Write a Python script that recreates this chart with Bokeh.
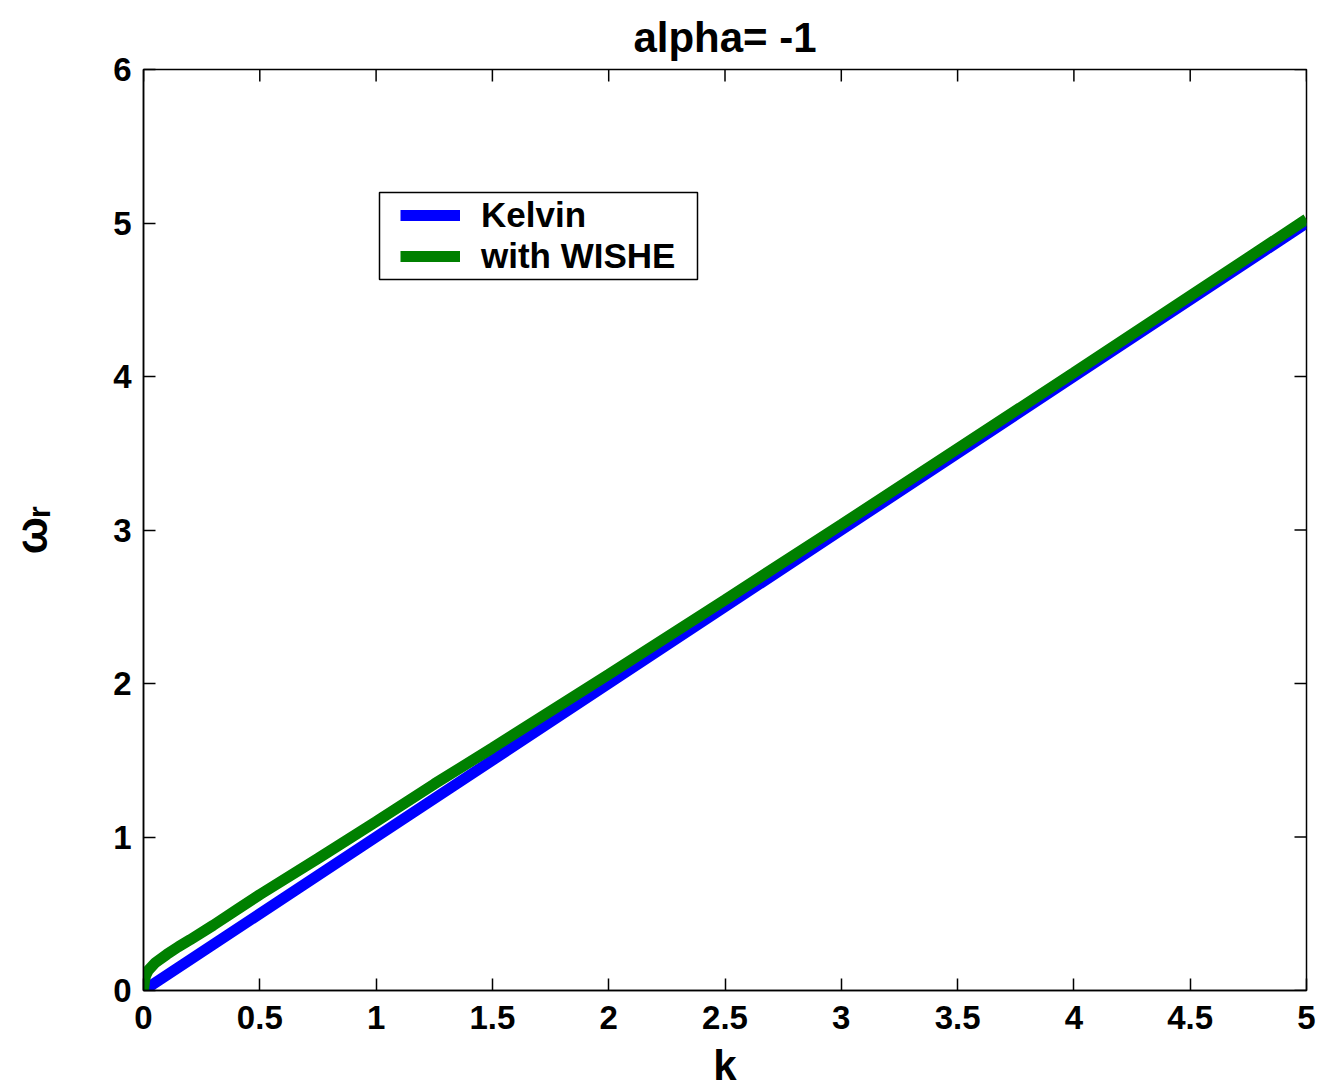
import math

from bokeh.plotting import figure
from bokeh.models import (LinearAxis, FixedTicker, Range1d, Legend, LegendItem,
                          BoxAnnotation)
from bokeh.embed import file_html
from bokeh.resources import INLINE

# Dispersion curves: real frequency vs. wavenumber
k_kelvin = [0.0, 1.0, 2.0, 3.0, 4.0, 5.0]
omega_kelvin = [0.0, 1.0, 2.0, 3.0, 4.0, 5.0]

k_wishe = [0.0, 0.005, 0.01, 0.02, 0.05, 0.1, 0.15, 0.2, 0.3, 0.4, 0.5, 0.75,
           1.0, 1.25, 1.5, 2.0, 2.5, 3.0, 3.5, 4.0, 4.5, 5.0]
omega_wishe = [0.0, 0.07, 0.10, 0.13, 0.18, 0.235, 0.285, 0.33, 0.425, 0.525,
               0.625, 0.86, 1.10, 1.345, 1.58, 2.06, 2.545, 3.035, 3.53,
               4.025, 4.525, 5.025]

x_ticks = [0, 0.5, 1, 1.5, 2, 2.5, 3, 3.5, 4, 4.5, 5]
x_tick_labels = ["0", "0.5", "1", "1.5", "2", "2.5", "3", "3.5", "4", "4.5", "5"]
y_ticks = [0, 1, 2, 3, 4, 5, 6]
y_tick_labels = ["0", "1", "2", "3", "4", "5", "6"]

FONT = "Liberation Sans"
TICK_SIZE = "33px"
TICK_LEN = 12

p = figure(width=1322, height=1091, output_backend="svg", toolbar_location=None,
           x_range=Range1d(x_ticks[0], x_ticks[-1]),
           y_range=Range1d(y_ticks[0], y_ticks[-1]),
           x_axis_location=None, y_axis_location=None,
           min_border_left=143, min_border_right=16,
           min_border_top=69, min_border_bottom=101)
p.background_fill_color = "white"
p.border_fill_color = "white"
p.outline_line_color = "black"
p.outline_line_width = 1.5
p.xgrid.visible = False
p.ygrid.visible = False

p.title.text = "alpha= -1"
p.title.align = "center"
p.title.text_font = FONT
p.title.text_font_size = "42px"
p.title.text_font_style = "bold"
p.title.text_color = "black"
p.title.standoff = 17


def style_axis(ax, ticks, labels):
    ax.ticker = FixedTicker(ticks=ticks)
    ax.minor_tick_line_color = None
    ax.major_tick_in = TICK_LEN
    ax.major_tick_out = 0
    ax.major_tick_line_color = "black"
    ax.major_tick_line_width = 1.5
    ax.axis_line_color = "black"
    ax.axis_line_width = 1.5
    ax.major_label_overrides = {t: s for t, s in zip(ticks, labels)}
    ax.major_label_text_font = FONT
    ax.major_label_text_font_size = TICK_SIZE
    ax.major_label_text_font_style = "bold"
    ax.major_label_text_color = "black"
    ax.axis_label_text_font = FONT
    ax.axis_label_text_font_style = "bold"
    ax.axis_label_text_color = "black"


xb = LinearAxis(axis_label="k")
style_axis(xb, x_ticks, x_tick_labels)
xb.major_label_standoff = 15
xb.axis_label_standoff = 10
xb.axis_label_text_font_size = "42px"
p.add_layout(xb, "below")

yl = LinearAxis(axis_label="ω\u1d63")
style_axis(yl, y_ticks, y_tick_labels)
yl.major_label_standoff = 12
yl.axis_label_standoff = 54
yl.axis_label_text_font_size = "44px"
p.add_layout(yl, "left")

# inward ticks mirrored on the top and right edges of the box
p.scatter(x_ticks, [y_ticks[-1]] * len(x_ticks), marker="dash", size=2 * TICK_LEN,
          angle=math.pi / 2, line_color="black", line_width=1.5)
p.scatter([x_ticks[-1]] * len(y_ticks), y_ticks, marker="dash", size=2 * TICK_LEN,
          line_color="black", line_width=1.5)

r_kelvin = p.line(k_kelvin, omega_kelvin, line_color="#0000FF", line_width=11)
r_wishe = p.line(k_wishe, omega_wishe, line_color="#008000", line_width=11)

# legend with a separate frame around it
p.add_layout(BoxAnnotation(left=379, right=697, top=192, bottom=279,
                           left_units="canvas", right_units="canvas",
                           top_units="canvas", bottom_units="canvas",
                           fill_alpha=0, line_color="black", line_alpha=1,
                           line_width=1.5, level="overlay"))
legend = Legend(items=[LegendItem(label="Kelvin", renderers=[r_kelvin]),
                       LegendItem(label="with WISHE", renderers=[r_wishe])],
                location=(257, 714))
legend.border_line_color = None
legend.background_fill_alpha = 0
legend.label_text_font = FONT
legend.label_text_font_size = "35px"
legend.label_text_font_style = "bold"
legend.label_text_color = "black"
legend.glyph_width = 60
legend.glyph_height = 36
legend.label_height = 36
legend.label_standoff = 21
legend.padding = 3
legend.spacing = 1
legend.margin = 0
p.add_layout(legend, "center")

open("out.html", "w").write(file_html(p, INLINE))
